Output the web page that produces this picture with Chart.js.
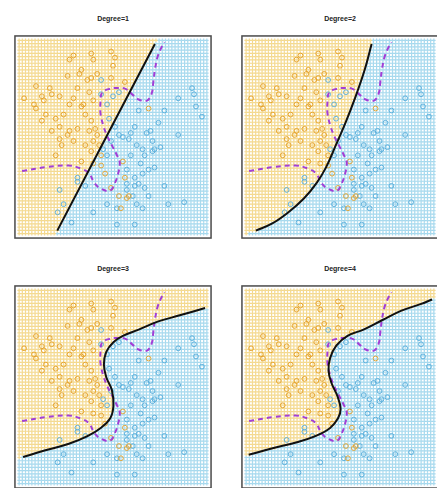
<!DOCTYPE html>
<html lang="en">
  <head>
    <meta charset="UTF-8" />
    <title>Logistic regression, polynomial degree 1-4</title>
    <script src="https://cdn.jsdelivr.net/npm/chart.js"></script>
    <style>
      body { margin: 0; background: #fff; width: 437px; height: 488px; overflow: hidden; position: relative; }
      .panel { position: absolute; width: 208px; height: 214px; }
      .ttl { position: absolute; width: 208px; text-align: center; font: bold 7px "Liberation Sans", Arial, sans-serif; color: #222; }
    </style>
  </head>
  <body>
    <script>
      // simulated two-class data (X1, X2 rescaled to 0..1)
      const orangeX1 = [0.30,0.28,0.39,0.40,0.49,0.51,0.34,0.33,0.27,0.37,0.39,0.42,0.49,0.50,0.56,0.11,0.18,0.19,0.05,0.14,0.23,0.30,0.28,0.35,0.34,0.40,0.36,0.11,0.16,0.21,0.14,0.23,0.28,0.32,0.27,0.39,0.41,0.42,0.40,0.23,0.24,0.21,0.39,0.40,0.44,0.55,0.34,0.46,0.49,0.56,0.58,0.68,0.57,0.15,0.10,0.32,0.38,0.30,0.36,0.38,0.25,0.19,0.43,0.44,0.53,0.54];
      const orangeX2 = [0.90,0.88,0.91,0.88,0.92,0.89,0.83,0.81,0.80,0.78,0.79,0.81,0.79,0.85,0.77,0.75,0.74,0.71,0.69,0.70,0.70,0.69,0.66,0.66,0.65,0.68,0.61,0.64,0.61,0.59,0.58,0.55,0.53,0.54,0.51,0.58,0.54,0.51,0.48,0.49,0.46,0.41,0.43,0.37,0.36,0.38,0.38,0.32,0.25,0.30,0.21,0.64,0.20,0.68,0.66,0.74,0.72,0.48,0.46,0.53,0.61,0.53,0.46,0.41,0.21,0.15];
      const blueX1 = [0.44,0.44,0.50,0.53,0.47,0.48,0.51,0.53,0.55,0.58,0.61,0.67,0.69,0.65,0.70,0.71,0.66,0.68,0.71,0.61,0.61,0.57,0.63,0.66,0.60,0.62,0.68,0.78,0.90,0.91,0.83,0.92,0.95,0.83,0.73,0.76,0.63,0.32,0.32,0.36,0.23,0.25,0.22,0.29,0.52,0.61,0.40,0.47,0.52,0.65,0.57,0.49,0.45,0.47,0.59,0.62,0.64,0.59,0.70,0.74,0.57,0.65,0.86,0.76];
      const blueX2 = [0.78,0.71,0.70,0.72,0.66,0.59,0.55,0.51,0.50,0.49,0.55,0.52,0.53,0.44,0.43,0.44,0.41,0.34,0.35,0.30,0.26,0.27,0.27,0.25,0.21,0.17,0.21,0.17,0.74,0.71,0.69,0.65,0.60,0.51,0.57,0.63,0.63,0.30,0.28,0.26,0.24,0.17,0.13,0.08,0.07,0.07,0.13,0.17,0.15,0.15,0.24,0.48,0.44,0.41,0.52,0.46,0.37,0.41,0.48,0.45,0.34,0.32,0.18,0.26];

      // Bayes decision boundary (purple dashed)
      const bayesX1 = [0.04,0.162,0.275,0.34,0.38,0.405,0.437,0.485,0.51,0.526,0.534,0.518,0.494,0.47,0.453,0.437,0.437,0.445,0.477,0.526,0.566,0.6,0.63,0.672,0.696,0.704,0.712,0.725,0.744,0.76];
      const bayesX2 = [0.333,0.352,0.36,0.344,0.32,0.275,0.247,0.236,0.275,0.32,0.375,0.414,0.46,0.506,0.55,0.614,0.676,0.719,0.735,0.741,0.735,0.707,0.684,0.679,0.715,0.769,0.83,0.892,0.938,0.966];

      // fitted logistic regression boundaries
      const deg1X1 = [0.218,0.712];
      const deg1X2 = [0.04,0.957];
      const deg2X1 = [0.074,0.155,0.236,0.317,0.382,0.43,0.479,0.527,0.576,0.625,0.66];
      const deg2X2 = [0.04,0.074,0.128,0.198,0.275,0.352,0.46,0.568,0.691,0.83,0.957];
      const deg3X1 = [0.045,0.149,0.277,0.373,0.438,0.486,0.502,0.494,0.466,0.454,0.466,0.502,0.55,0.63,0.726,0.838,0.966];
      const deg3X2 = [0.156,0.187,0.221,0.26,0.299,0.346,0.408,0.486,0.548,0.611,0.673,0.72,0.751,0.782,0.821,0.852,0.888];
      const deg4X1 = [0.038,0.154,0.282,0.378,0.45,0.49,0.503,0.487,0.458,0.442,0.45,0.482,0.538,0.619,0.715,0.811,0.907,0.966];
      const deg4X2 = [0.167,0.198,0.229,0.26,0.299,0.346,0.393,0.455,0.517,0.579,0.642,0.704,0.751,0.782,0.829,0.875,0.907,0.93];

      const titles = ["Degree=1", "Degree=2", "Degree=3", "Degree=4"];
      const fits = [[deg1X1, deg1X2], [deg2X1, deg2X2], [deg3X1, deg3X2], [deg4X1, deg4X2]];
      const spots = [[9, 30], [236, 30], [9, 280], [236, 280]];

      const zip = (a, b) => a.map((v, i) => ({ x: v, y: b[i] }));

      // x1 position of the fitted boundary at a given x2 (linear, extrapolated at the ends)
      function boundaryAt(bx, by, y) {
        let i = 0;
        while (i < by.length - 2 && y > by[i + 1]) i++;
        const t = (y - by[i]) / (by[i + 1] - by[i]);
        return bx[i] + t * (bx[i + 1] - bx[i]);
      }

      const framePlugin = {
        id: "frame",
        afterDraw(chart) {
          const a = chart.chartArea, ctx = chart.ctx;
          ctx.save();
          ctx.strokeStyle = "#4a4a4a";
          ctx.lineWidth = 1.5;
          ctx.strokeRect(a.left + 0.75, a.top + 0.75, a.width - 1.5, a.height - 1.5);
          ctx.restore();
        },
      };

      const N = 60;
      titles.forEach((title, k) => {
        const [left, top] = spots[k];
        const t = document.createElement("div");
        t.className = "ttl";
        t.style.left = left + "px";
        t.style.top = top - 15 + "px";
        t.textContent = title;
        document.body.appendChild(t);

        const wrap = document.createElement("div");
        wrap.className = "panel";
        wrap.style.left = left + "px";
        wrap.style.top = top + "px";
        const cv = document.createElement("canvas");
        cv.width = 208;
        cv.height = 214;
        wrap.appendChild(cv);
        document.body.appendChild(wrap);

        const [bx, by] = fits[k];
        const gridO = [], gridB = [];
        for (let i = 0; i < N; i++) {
          for (let j = 0; j < N; j++) {
            const x = 0.025 + (0.95 * i) / (N - 1);
            const y = 0.025 + (0.95 * j) / (N - 1);
            (x < boundaryAt(bx, by, y) ? gridO : gridB).push({ x, y });
          }
        }

        new Chart(cv, {
          type: "scatter",
          data: {
            datasets: [
              { data: zip(bx, by), showLine: true, borderColor: "#111", borderWidth: 2, pointRadius: 0, tension: 0.4 },
              { data: zip(bayesX1, bayesX2), showLine: true, borderColor: "#a23fd6", borderWidth: 2, borderDash: [5, 4], pointRadius: 0, tension: 0.4 },
              { data: zip(orangeX1, orangeX2), pointStyle: "circle", pointRadius: 2.4, borderWidth: 1, borderColor: "rgba(228,160,40,0.9)", backgroundColor: "transparent" },
              { data: zip(blueX1, blueX2), pointStyle: "circle", pointRadius: 2.4, borderWidth: 1, borderColor: "rgba(85,172,218,0.9)", backgroundColor: "transparent" },
              { data: gridO, pointStyle: "cross", pointRadius: 1.75, borderWidth: 1.2, borderColor: "rgba(240,205,110,0.75)" },
              { data: gridB, pointStyle: "cross", pointRadius: 1.75, borderWidth: 1.2, borderColor: "rgba(140,205,232,0.75)" },
            ],
          },
          options: {
            responsive: false,
            animation: false,
            events: [],
            layout: { padding: 0 },
            plugins: { legend: { display: false }, tooltip: { enabled: false } },
            scales: {
              x: { type: "linear", min: 0, max: 1, display: false },
              y: { type: "linear", min: 0, max: 1, display: false },
            },
          },
          plugins: [framePlugin],
        });
      });
    </script>
  </body>
</html>
